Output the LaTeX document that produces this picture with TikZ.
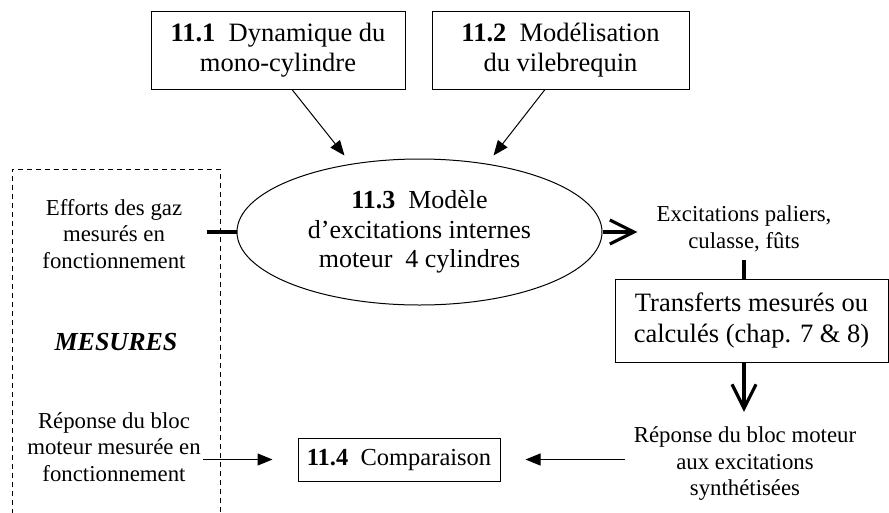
\documentclass[tikz,border=0pt]{standalone}
\usepackage{fontspec}
\setmainfont{Liberation Serif}
\usetikzlibrary{arrows.meta, shapes.geometric}

\begin{document}
\begin{tikzpicture}[x=1pt, y=-1pt,
    box/.style={draw, line width=1pt, align=center, inner sep=0pt},
    lbl/.style={align=center, inner sep=0pt, font=\fontsize{22.8}{26.5}\selectfont},
    thinarrow/.style={line width=1pt, -{Triangle[length=15pt, width=12pt]}},
    thickarrow/.style={line width=3.2pt, -{Straight Barb[length=24pt, width=24pt, line width=3.2pt]}}]
    \useasboundingbox (0,0) rectangle (889,512);

    % 1. Top boxes
    \node[box, minimum width=254pt, minimum height=78pt, font=\fontsize{26.5}{30}\selectfont]
        (dyn) at (278,50) {\textbf{11.1}\ \ Dynamique du\\mono-cylindre};
    \node[box, minimum width=257pt, minimum height=78pt, font=\fontsize{26.5}{30}\selectfont]
        (vil) at (560.5,50) {\textbf{11.2}\ \ Mod\'elisation\\du vilebrequin};

    % 2. Central model
    \node[ellipse, draw, line width=1pt, align=center, inner sep=0pt,
          minimum width=365pt, minimum height=146pt, font=\fontsize{26}{29.5}\selectfont]
        (model) at (419.5,232) {\textbf{11.3}\ \ Mod\`ele\\d'excitations internes\\moteur\ \ 4 cylindres};

    % 3. Measurements (dashed frame)
    \draw[line width=1pt, dash pattern=on 5pt off 4pt] (12,514) -- (12,169) -- (220,169) -- (220,514);
    \node[lbl] (efforts) at (114,234) {Efforts des gaz\\mesur\'es en\\fonctionnement};
    \node[inner sep=0pt, font=\fontsize{26}{30}\selectfont\bfseries\itshape] (mesures) at (116,342) {MESURES};
    \node[lbl] (repmes) at (114,447) {R\'eponse du bloc\\moteur mesur\'ee en\\fonctionnement};

    % 4. Right branch
    \node[lbl] (excit) at (744,229) {Excitations paliers,\\culasse, f\^uts};
    \node[box, minimum width=273pt, minimum height=83pt, font=\fontsize{26.5}{31}\selectfont]
        (transf) at (751.5,320.5) {Transferts mesur\'es ou\\calcul\'es (chap. 7 \& 8)};
    \node[lbl] (repsyn) at (745,464) {R\'eponse du bloc moteur\\aux excitations\\synth\'etis\'ees};

    % 5. Comparison
    \node[box, minimum width=202pt, minimum height=43pt, font=\fontsize{24.5}{28}\selectfont]
        (comp) at (399,459.5) {\textbf{11.4}\ \ Comparaison};

    % 6. Connectors
    \draw[thinarrow] ([xshift=14pt]dyn.south) -- ([xshift=-75pt, yshift=3pt]model.north);
    \draw[thinarrow] ([xshift=-15.5pt]vil.south) -- ([xshift=74pt, yshift=3pt]model.north);
    \draw[line width=3.2pt] ([xshift=21pt]efforts.east |- model.west) -- (model.west);
    \draw[thickarrow] (model.east) -- ([xshift=-19pt]model.east -| excit.west);
    \draw[line width=3.2pt, shorten <=8pt] (excit.south) -- (excit.south |- transf.north);
    \draw[thickarrow, shorten >=15pt] (excit.south |- transf.south) -- (excit.south |- repsyn.north);
    \draw[thinarrow, shorten >=25pt] ([xshift=2pt]repmes.east |- comp.west) -- (comp.west);
    \draw[thinarrow, shorten >=25pt] ([xshift=-9pt]comp.east -| repsyn.west) -- (comp.east);

\end{tikzpicture}
\end{document}
